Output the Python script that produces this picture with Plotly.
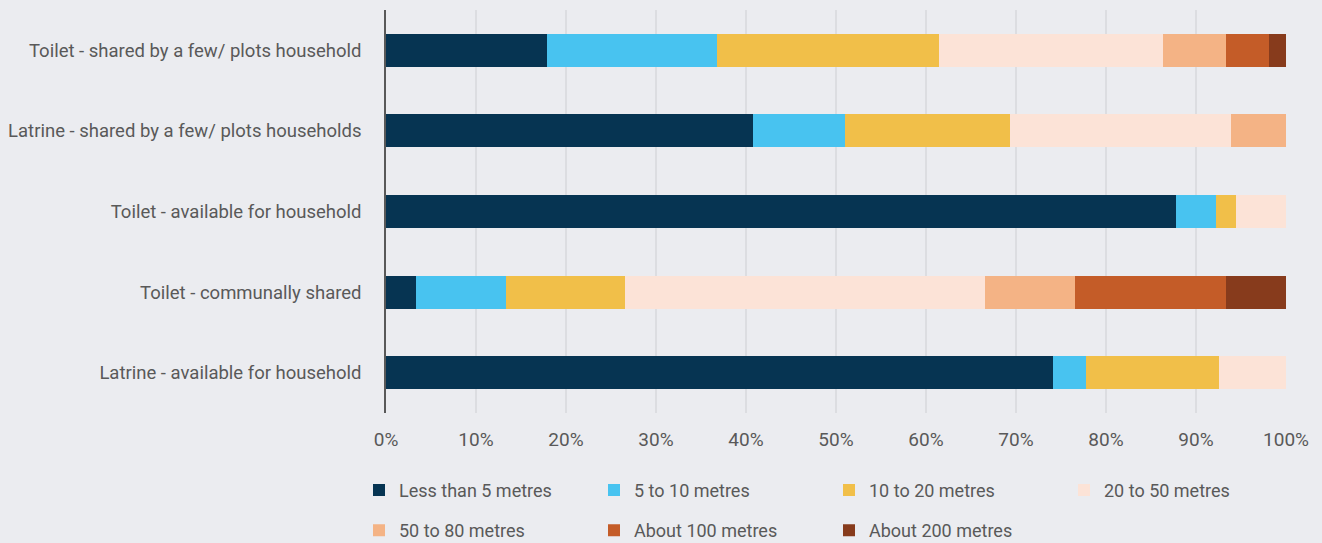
import plotly.graph_objects as go

CATEGORIES = [
    "Latrine - available for household",
    "Toilet - communally shared",
    "Toilet - available for household",
    "Latrine - shared by a few/ plots households",
    "Toilet - shared by a few/ plots household",
]

SERIES = [
    "Less than 5 metres",
    "5 to 10 metres",
    "10 to 20 metres",
    "20 to 50 metres",
    "50 to 80 metres",
    "About 100 metres",
    "About 200 metres",
]

LESS_5 = [74.1, 3.3, 87.8, 40.8, 17.9]
M5_10 = [3.7, 10.0, 4.4, 10.2, 18.9]
M10_20 = [14.8, 13.3, 2.2, 18.3, 24.6]
M20_50 = [7.4, 40.0, 5.6, 24.6, 24.9]
M50_80 = [0.0, 10.0, 0.0, 6.1, 7.0]
ABOUT_100 = [0.0, 16.7, 0.0, 0.0, 4.8]
ABOUT_200 = [0.0, 6.7, 0.0, 0.0, 1.9]

VALUES = [LESS_5, M5_10, M10_20, M20_50, M50_80, ABOUT_100, ABOUT_200]

COLORS = ["#063452", "#48C3F0", "#F1BF49", "#FCE3D7", "#F4B385", "#C45C28", "#873B1C"]

TEXT = "#595959"
BG = "#EBECF0"
FONT = "Roboto, Arial, sans-serif"

fig = go.Figure()
for i, (name, vals, color) in enumerate(zip(SERIES, VALUES, COLORS)):
    fig.add_trace(
        go.Bar(
            name=name,
            y=CATEGORIES,
            x=vals,
            orientation="h",
            marker=dict(color=color, line=dict(width=0)),
            legend="legend" if i < 4 else "legend2",
        )
    )

# two legend rows, 40px apart like the source
legend_common = dict(
    orientation="h",
    x=-0.03,
    xanchor="left",
    yanchor="top",
    entrywidth=190,
    entrywidthmode="pixels",
    traceorder="normal",
    font=dict(size=18, color=TEXT),
    bgcolor="rgba(0,0,0,0)",
)

fig.update_layout(
    barmode="stack",
    bargap=0.59,
    width=1322,
    height=543,
    paper_bgcolor=BG,
    plot_bgcolor=BG,
    margin=dict(l=386, r=36, t=10, b=130, autoexpand=False),
    font=dict(family=FONT, size=18, color=TEXT),
    legend=dict(legend_common, y=-0.146),
    legend2=dict(legend_common, y=-0.246),
)
fig.update_xaxes(
    range=[0, 100],
    tickvals=[0, 10, 20, 30, 40, 50, 60, 70, 80, 90, 100],
    ticktext=[f"{v}%" for v in range(0, 101, 10)],
    showgrid=True,
    gridcolor="#DCDDE1",
    gridwidth=1.5,
    zeroline=False,
    showline=False,
    ticks="",
    ticklabelstandoff=13,
    tickfont=dict(size=19, color=TEXT),
)
fig.update_yaxes(
    showline=True,
    linecolor="#595959",
    linewidth=1.5,
    ticks="",
    ticklabelstandoff=19,
    tickfont=dict(size=18.5, color=TEXT),
    showgrid=False,
)

fig.write_html(
    "out.html",
    config={"displayModeBar": False},
    post_script="document.body.style.margin='0';document.body.style.background='#EBECF0';",
)
